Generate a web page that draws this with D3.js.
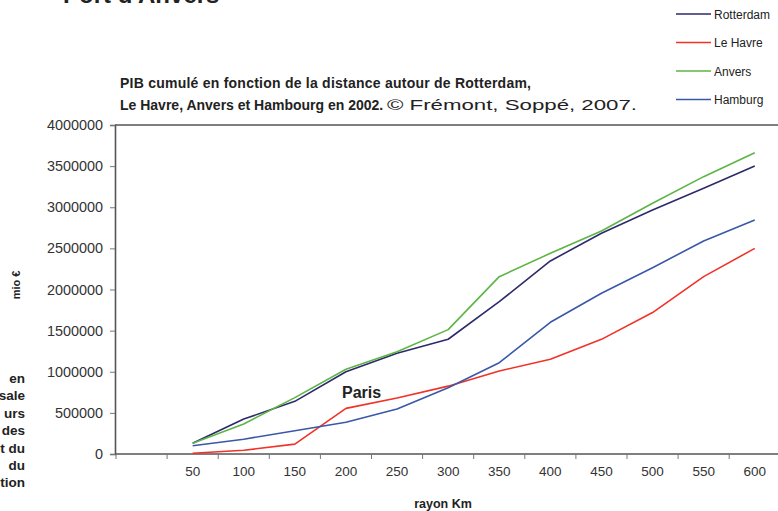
<!DOCTYPE html>
<html>
<head>
<meta charset="utf-8">
<script src="https://cdn.jsdelivr.net/npm/d3@7"></script>
<style>
  body { margin: 0; background: #fff; }
  svg { display: block; font-family: "Liberation Sans", Arial, Helvetica, sans-serif; }
</style>
</head>
<body>
<div id="chart-container"></div>
<script>
// data (mio €)
const categories = ["50", "100", "150", "200", "250", "300", "350", "400", "450", "500", "550", "600"];
const rotterdam = [130000, 425000, 640000, 1000000, 1225000, 1395000, 1852000, 2347000, 2683000, 2967000, 3230000, 3501000];
const leHavre = [10000, 45000, 120000, 555000, 680000, 825000, 1009000, 1151000, 1394000, 1720000, 2156000, 2500000];
const anvers = [130000, 365000, 685000, 1030000, 1244000, 1512000, 2156000, 2440000, 2711000, 3048000, 3372000, 3663000];
const hamburg = [100000, 180000, 283000, 385000, 547000, 806000, 1110000, 1601000, 1954000, 2265000, 2590000, 2845000];
const seriesNames = ["Rotterdam", "Le Havre", "Anvers", "Hamburg"];
const yTicks = [0, 500000, 1000000, 1500000, 2000000, 2500000, 3000000, 3500000, 4000000];
const sideText = ["en", "sale", "urs", "des", "et du", "du", "tion"];

const colors = {
  Rotterdam: "#2d2a6b",
  "Le Havre": "#f03228",
  Anvers: "#5cb545",
  Hamburg: "#3a58a8",
};

const series = [
  { name: "Rotterdam", values: rotterdam },
  { name: "Le Havre", values: leHavre },
  { name: "Anvers", values: anvers },
  { name: "Hamburg", values: hamburg },
];

// canvas
const w = 778;
const h = 511;
const plotLeft = 116;
const plotTop = 125;
const plotBottom = 454;

const svg = d3
  .select("#chart-container")
  .append("svg")
  .attr("width", w)
  .attr("height", h);

// scales: first band is empty like in the original sheet
const xScale = d3
  .scaleBand()
  .domain([""].concat(categories))
  .range([plotLeft, plotLeft + 51.1 * 13])
  .padding(0);

const yScale = d3.scaleLinear().domain([0, 4000000]).range([plotBottom, plotTop]);

// frame top line
svg
  .append("line")
  .attr("x1", plotLeft - 1)
  .attr("x2", w)
  .attr("y1", yScale(4000000))
  .attr("y2", yScale(4000000))
  .attr("stroke", "#555")
  .attr("stroke-width", 1.6);

// y axis
const yAxis = d3
  .axisLeft(yScale)
  .tickValues(yTicks)
  .tickFormat(d3.format("d"))
  .tickSize(5)
  .tickPadding(7);

const gy = svg
  .append("g")
  .attr("id", "y-axis")
  .attr("transform", "translate(" + (plotLeft - 1) + ",0)")
  .call(yAxis);
gy.select(".domain").attr("stroke", "#555").attr("stroke-width", 1.6);
gy.selectAll(".tick line").attr("stroke", "#777");
gy.selectAll(".tick text")
  .attr("fill", "#333")
  .style("font-size", "14.4px")
  .style("font-family", "'Liberation Sans', Arial, sans-serif");

// x axis labels at band centres
const xAxis = d3
  .axisBottom(xScale)
  .tickValues(categories)
  .tickSize(0)
  .tickPadding(12);

const gx = svg
  .append("g")
  .attr("id", "x-axis")
  .attr("transform", "translate(0," + plotBottom + ")")
  .call(xAxis);
gx.select(".domain").remove();
gx.selectAll(".tick text")
  .attr("fill", "#333")
  .style("font-size", "13.5px")
  .style("font-family", "'Liberation Sans', Arial, sans-serif");

// x axis line and ticks on band borders
svg
  .append("line")
  .attr("x1", plotLeft - 1)
  .attr("x2", w)
  .attr("y1", plotBottom)
  .attr("y2", plotBottom)
  .attr("stroke", "#555")
  .attr("stroke-width", 1.6);

svg
  .append("g")
  .selectAll("line")
  .data(xScale.domain())
  .enter()
  .append("line")
  .attr("x1", (d) => xScale(d))
  .attr("x2", (d) => xScale(d))
  .attr("y1", plotBottom)
  .attr("y2", plotBottom + 5)
  .attr("stroke", "#777");

// lines
const line = d3
  .line()
  .x((d, i) => xScale(categories[i]) + xScale.bandwidth() / 2)
  .y((d) => yScale(d));

svg
  .selectAll(".serie")
  .data(series)
  .enter()
  .append("path")
  .attr("class", "serie")
  .attr("d", (d) => line(d.values))
  .attr("fill", "none")
  .attr("stroke", (d) => colors[d.name])
  .attr("stroke-width", 1.6)
  .attr("stroke-linejoin", "round");

// Paris label
svg
  .append("text")
  .attr("x", 342)
  .attr("y", 398)
  .attr("font-weight", "bold")
  .attr("font-size", 16)
  .attr("fill", "#222")
  .text("Paris");

// legend
const legend = svg
  .selectAll(".legend")
  .data(seriesNames)
  .enter()
  .append("g")
  .attr("class", "legend")
  .attr("transform", (d, i) => "translate(676," + (14 + i * 28.5) + ")");

legend
  .append("line")
  .attr("x1", 0)
  .attr("x2", 35)
  .attr("stroke", (d) => colors[d])
  .attr("stroke-width", 1.6);

legend
  .append("text")
  .attr("x", 38)
  .attr("y", 4.5)
  .attr("font-size", 12)
  .attr("fill", "#222")
  .text((d) => d);

// title (two lines, source in regular weight)
svg
  .append("text")
  .attr("x", 120)
  .attr("y", 88)
  .attr("font-size", 14)
  .attr("font-weight", "bold")
  .attr("fill", "#222")
  .attr("textLength", 411)
  .attr("lengthAdjust", "spacing")
  .text("PIB cumulé en fonction de la distance autour de Rotterdam,");

svg
  .append("text")
  .attr("x", 120)
  .attr("y", 109.5)
  .attr("font-size", 14)
  .attr("font-weight", "bold")
  .attr("fill", "#222")
  .text("Le Havre, Anvers et Hambourg en 2002.");

svg
  .append("text")
  .attr("x", 387)
  .attr("y", 109.5)
  .attr("font-size", 15)
  .attr("fill", "#222")
  .attr("textLength", 250)
  .attr("lengthAdjust", "spacingAndGlyphs")
  .text("© Frémont, Soppé, 2007.");

// clipped heading at the top
svg
  .append("text")
  .attr("x", 63)
  .attr("y", 3)
  .attr("font-weight", "bold")
  .attr("font-size", 24)
  .attr("fill", "#222")
  .text("Port d'Anvers");

// axis titles
svg
  .append("text")
  .attr("transform", "translate(20,285) rotate(-90)")
  .attr("text-anchor", "middle")
  .attr("font-weight", "bold")
  .attr("font-size", 11)
  .attr("fill", "#222")
  .text("mio €");

svg
  .append("text")
  .attr("x", 443)
  .attr("y", 508)
  .attr("text-anchor", "middle")
  .attr("font-weight", "bold")
  .attr("font-size", 12.5)
  .attr("fill", "#222")
  .text("rayon Km");

// cut-off side text on the left
svg
  .append("g")
  .selectAll("text")
  .data(sideText)
  .enter()
  .append("text")
  .attr("x", 25)
  .attr("y", (d, i) => 383 + i * 17.4)
  .attr("text-anchor", "end")
  .attr("font-weight", "bold")
  .attr("font-size", 13.5)
  .attr("fill", "#222")
  .text((d) => d);
</script>
</body>
</html>
